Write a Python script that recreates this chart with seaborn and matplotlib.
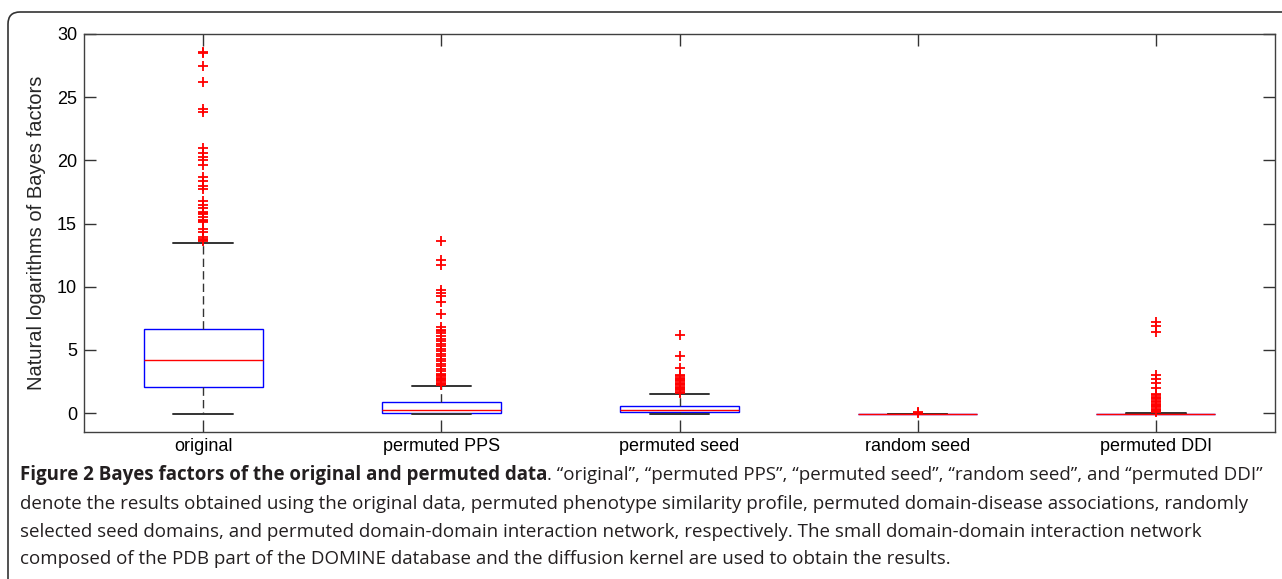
import numpy as np
import pandas as pd
import matplotlib
matplotlib.use("Agg")
import matplotlib.pyplot as plt
from matplotlib.patches import FancyBboxPatch
from matplotlib.transforms import IdentityTransform
import seaborn as sns

# Categories and box summaries (natural log of Bayes factors)
groups = ["original", "permuted PPS", "permuted seed", "random seed", "permuted DDI"]
whisker_low = [-0.10, -0.08, -0.08, -0.08, -0.08]
q1 = [2.10, 0.03, 0.08, -0.08, -0.08]
median = [4.22, 0.25, 0.22, -0.08, -0.08]
q3 = [6.68, 0.85, 0.55, -0.08, -0.08]
whisker_high = [13.47, 2.15, 1.50, -0.08, 0.02]

# Outlying values per group
outliers_original = [28.6, 28.5, 27.5, 26.2, 24.1, 23.8, 21.0, 20.6, 20.3, 20.0, 19.6,
                     18.7, 18.4, 18.0, 17.7, 16.8, 16.5, 16.2, 15.95, 15.85, 15.75,
                     15.5, 15.3, 15.2, 15.1, 14.6, 14.3, 13.95, 13.8, 13.7, 13.6]
outliers_pps = [13.6, 12.1, 11.7, 9.7, 9.5, 9.3, 8.8, 7.8, 6.8, 6.6, 6.5, 6.3, 6.1,
                5.9, 5.7, 5.5, 5.3, 5.1, 4.9, 4.7, 4.5, 4.3, 4.1, 3.9, 3.7, 3.5,
                3.3, 3.1, 3.0, 2.9, 2.8, 2.7, 2.6, 2.5, 2.4, 2.3, 2.2]
outliers_seed = [6.2, 4.5, 3.6, 3.05, 2.95, 2.8, 2.7, 2.6, 2.5, 2.4, 2.3, 2.2, 2.1,
                 2.0, 1.9, 1.8, 1.7, 1.6]
outliers_random = [0.0, 0.05]
outliers_ddi = [7.2, 6.9, 6.4, 3.0, 2.7, 2.4, 2.0, 1.5, 1.4, 1.3, 1.2, 1.1, 0.95,
                0.85, 0.75, 0.65, 0.55, 0.45, 0.35, 0.25, 0.15, 0.08]

caption_bold = "Figure 2 Bayes factors of the original and permuted data"
caption_lines = [
    ". \u201coriginal\u201d, \u201cpermuted PPS\u201d, \u201cpermuted seed\u201d, \u201crandom seed\u201d, and \u201cpermuted DDI\u201d",
    "denote the results obtained using the original data, permuted phenotype similarity profile, permuted domain-disease associations, randomly",
    "selected seed domains, and permuted domain-domain interaction network, respectively. The small domain-domain interaction network",
    "composed of the PDB part of the DOMINE database and the diffusion kernel are used to obtain the results.",
]

# Long tables for seaborn: each box is drawn from its five-number summary
rows = []
for g, lo, a, m, b, hi in zip(groups, whisker_low, q1, median, q3, whisker_high):
    for v in (lo, a, a, m, b, b, hi):
        rows.append({"group": g, "value": v})
summary = pd.DataFrame(rows)

flier_sets = [outliers_original, outliers_pps, outliers_seed, outliers_random, outliers_ddi]
fliers = pd.DataFrame(
    [{"group": g, "value": v} for g, vals in zip(groups, flier_sets) for v in vals]
)

sns.set_theme(style="ticks")
plt.rcParams["font.family"] = ["Liberation Sans", "DejaVu Sans"]

W, H = 1282, 579
fig = plt.figure(figsize=(W / 100, H / 100), dpi=100)
fig.patch.set_facecolor("white")
ax = fig.add_axes([84 / W, 1 - 432 / H, (1275 - 84) / W, (432 - 34) / H])

sns.boxplot(
    data=summary, x="group", y="value", order=groups, whis=(0, 100), width=0.5,
    color="white", linecolor="#333333", linewidth=1.0, showfliers=False, ax=ax,
    boxprops={"facecolor": "white", "edgecolor": "blue", "linewidth": 1.0},
    medianprops={"color": "red", "linewidth": 1.0},
    whiskerprops={"color": "#333333", "linewidth": 1.0, "linestyle": (0, (6, 3))},
    capprops={"color": "#333333", "linewidth": 1.4},
)
sns.stripplot(
    data=fliers, x="group", y="value", order=groups, jitter=False, marker="+",
    color="red", size=7.5, linewidth=1.3, ax=ax, zorder=3,
)

ax.set_xlim(-0.5, 4.5)
ax.set_ylim(-1.5, 30)
ax.set_yticks(range(0, 31, 5))
ax.set_xlabel("")
ax.set_ylabel("Natural logarithms of Bayes factors", fontsize=14.5, labelpad=8)
ax.tick_params(direction="in", length=8.6, width=1.0, color="#333333",
               top=True, right=True, labelsize=13, labelcolor="black")
ax.tick_params(axis="y", pad=5)
ax.tick_params(axis="x", pad=4)
for s in ax.spines.values():
    s.set_visible(True)
    s.set_color("#404040")
    s.set_linewidth(1.0)

# Rounded frame around the figure panel
frame = FancyBboxPatch((8, -20), W + 20, H - 12 + 20,
                       boxstyle="round,pad=0,rounding_size=12",
                       transform=IdentityTransform(), facecolor="none",
                       edgecolor="#333333", linewidth=1.2)
fig.add_artist(frame)

# Caption
cap_font = ["Open Sans", "DejaVu Sans"]
cap_size = 13.5
x0 = 20 / W
ys = [475, 504, 532, 559]
t_bold = fig.text(x0, 1 - ys[0] / H, caption_bold, fontsize=cap_size, fontweight="bold",
                  family=cap_font, va="center", ha="left", color="#231f20")
fig.canvas.draw()
bb = t_bold.get_window_extent(fig.canvas.get_renderer())
fig.text(bb.x1 / W, 1 - ys[0] / H, caption_lines[0], fontsize=cap_size, family=cap_font,
         va="center", ha="left", color="#231f20")
for y, line in zip(ys[1:], caption_lines[1:]):
    fig.text(x0, 1 - y / H, line, fontsize=cap_size, family=cap_font,
             va="center", ha="left", color="#231f20")

fig.savefig("out.png", dpi=100)
